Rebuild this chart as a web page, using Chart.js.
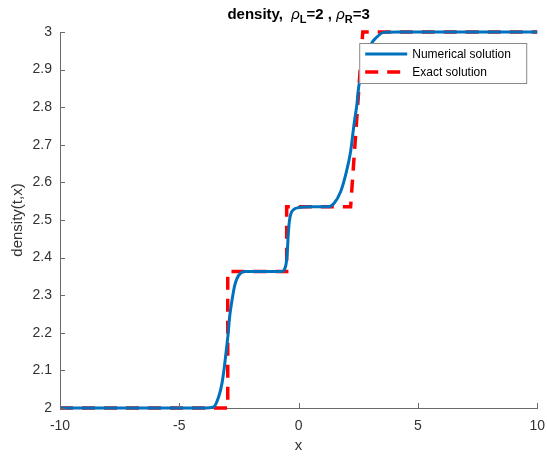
<!DOCTYPE html>
<html>
<head>
<meta charset="utf-8">
<script src="https://cdn.jsdelivr.net/npm/chart.js@4.4.1/dist/chart.umd.min.js"></script>
<style>
  html, body { margin: 0; padding: 0; background: #fff; }
  #wrap { width: 547px; height: 458px; }
</style>
</head>
<body>
<div id="wrap"><canvas id="densityChart" width="547" height="458"></canvas></div>
<script>
// exact Riemann solution: two shocks and a rarefaction
var exactX   = [-10, -2.97, -2.97, -0.5, -0.5, 2.18, 2.69, 10];
var exactRho = [2, 2, 2.363, 2.363, 2.535, 2.535, 3, 3];

// numerical solution sampled along x
var numX   = [-10, -5, -3.9, -3.56, -3.35, -3.21, -3.11, -3.03, -2.95, -2.89, -2.79, -2.69, -2.58, -2.44, -2.23,
              -1.5, -0.7, -0.59, -0.52, -0.47, -0.43, -0.38, -0.31, -0.2, 0.0, 0.5,
              1.2, 1.48, 1.76, 1.97, 2.18, 2.32, 2.44, 2.53, 2.58, 2.8, 3.07, 3.24, 3.57, 4.2, 10];
var numRho = [2, 2, 2, 2.003, 2.03, 2.066, 2.11, 2.154, 2.199, 2.243, 2.287, 2.323, 2.345, 2.358, 2.363,
              2.363, 2.363, 2.369, 2.385, 2.42, 2.465, 2.5, 2.519, 2.528, 2.533, 2.535,
              2.535, 2.544, 2.575, 2.62, 2.682, 2.753, 2.806, 2.859, 2.868, 2.925, 2.971, 2.984, 2.999, 3, 3];

var xTickValues = [-10, -5, 0, 5, 10];
var yTickValues = [2, 2.1, 2.2, 2.3, 2.4, 2.5, 2.6, 2.7, 2.8, 2.9, 3];

var rhoL = 2, rhoR = 3;
var BLUE = '#0072BD', RED = '#FF0000';
var FONT = '"Liberation Sans", Arial, sans-serif';

function toPoints(xs, ys) {
  return xs.map(function(x, i){ return {x: x, y: ys[i]}; });
}

// small inward tick marks, matlab style
var innerTicks = {
  id: 'innerTicks',
  afterDraw: function(chart){
    var ctx = chart.ctx, a = chart.chartArea;
    var sx = chart.scales.x, sy = chart.scales.y;
    ctx.save();
    ctx.strokeStyle = '#6a6a6a';
    ctx.lineWidth = 1;
    ctx.beginPath();
    xTickValues.forEach(function(v){
      var px = Math.round(sx.getPixelForValue(v)) + 0.5;
      ctx.moveTo(px, a.bottom); ctx.lineTo(px, a.bottom - 5);
    });
    yTickValues.forEach(function(v){
      var py = Math.round(sy.getPixelForValue(v)) + 0.5;
      ctx.moveTo(a.left, py); ctx.lineTo(a.left + 5, py);
    });
    ctx.stroke();
    ctx.restore();
  }
};

// title with subscripts
var subTitle = {
  id: 'subTitle',
  afterDraw: function(chart){
    var ctx = chart.ctx, a = chart.chartArea;
    var parts = [
      {t: 'density,  ', f: 'bold 15px ' + FONT, dy: 0},
      {t: '\u03C1', f: 'italic 15px ' + FONT, dy: 0},
      {t: 'L', f: 'bold 11px ' + FONT, dy: 4},
      {t: '=' + rhoL + ' , ', f: 'bold 15px ' + FONT, dy: 0},
      {t: '\u03C1', f: 'italic 15px ' + FONT, dy: 0},
      {t: 'R', f: 'bold 11px ' + FONT, dy: 4},
      {t: '=' + rhoR, f: 'bold 15px ' + FONT, dy: 0}
    ];
    ctx.save();
    var total = 0;
    parts.forEach(function(p){ ctx.font = p.f; p.w = ctx.measureText(p.t).width; total += p.w; });
    var x = (a.left + a.right) / 2 - total / 2;
    ctx.fillStyle = '#000';
    ctx.textBaseline = 'alphabetic';
    ctx.textAlign = 'left';
    parts.forEach(function(p){
      ctx.font = p.f;
      ctx.fillText(p.t, x, 19 + p.dy);
      x += p.w;
    });
    ctx.restore();
  }
};

// boxed legend in the upper right corner of the axes
var boxLegend = {
  id: 'boxLegend',
  afterDraw: function(chart){
    var ctx = chart.ctx, a = chart.chartArea;
    var w = 167, h = 40;
    var left = a.right - 11 - w, top = a.top + 11;
    ctx.save();
    ctx.fillStyle = '#fff';
    ctx.fillRect(left, top, w, h);
    ctx.strokeStyle = '#8a8a8a';
    ctx.lineWidth = 1;
    ctx.strokeRect(left + 0.5, top + 0.5, w, h);
    ctx.font = '12px ' + FONT;
    ctx.textBaseline = 'middle';
    ctx.fillStyle = '#000';
    chart.data.datasets.forEach(function(ds, i){
      var y = top + 11 + i * 18;
      ctx.beginPath();
      ctx.strokeStyle = ds.borderColor;
      ctx.lineWidth = ds.borderWidth;
      ctx.setLineDash(ds.borderDash || []);
      ctx.moveTo(left + 6, y);
      ctx.lineTo(left + 48, y);
      ctx.stroke();
      ctx.setLineDash([]);
      ctx.fillText(ds.label, left + 53, y + 1);
    });
    ctx.restore();
  }
};

new Chart(document.getElementById('densityChart'), {
  type: 'scatter',
  data: {
    datasets: [{
      label: 'Numerical solution',
      data: toPoints(numX, numRho),
      showLine: true,
      borderColor: BLUE,
      borderWidth: 3,
      pointRadius: 0,
      cubicInterpolationMode: 'monotone',
      clip: 4
    }, {
      label: 'Exact solution',
      data: toPoints(exactX, exactRho),
      showLine: true,
      borderColor: RED,
      borderWidth: 3.5,
      borderDash: [13, 9],
      pointRadius: 0,
      tension: 0,
      clip: 4
    }]
  },
  plugins: [innerTicks, boxLegend, subTitle],
  options: {
    responsive: false,
    animation: false,
    layout: { padding: { top: 32, right: 2, left: 0, bottom: 0 } },
    plugins: { legend: { display: false }, tooltip: { enabled: false } },
    scales: {
      x: {
        type: 'linear', min: -10, max: 10,
        afterFit: function(s){ s.height = 50; },
        afterBuildTicks: function(s){ s.ticks = xTickValues.map(function(v){ return {value: v}; }); },
        grid: { display: false },
        border: { display: true, color: '#6a6a6a', width: 1 },
        ticks: { color: '#333', font: { size: 14, family: FONT }, padding: 2, maxRotation: 0 },
        title: { display: true, text: 'x', color: '#333', font: { size: 15, family: FONT }, padding: { top: 0, bottom: 3 } }
      },
      y: {
        type: 'linear', min: 2, max: 3,
        afterFit: function(s){ s.width = 60; },
        afterBuildTicks: function(s){ s.ticks = yTickValues.map(function(v){ return {value: v}; }); },
        grid: { display: false },
        border: { display: true, color: '#6a6a6a', width: 1 },
        ticks: { color: '#333', font: { size: 14, family: FONT }, padding: 0,
                 callback: function(v){ return String(Math.round(v * 10) / 10); } },
        title: { display: true, text: 'density(t,x)', color: '#333', font: { size: 15, family: FONT }, padding: { top: 9, bottom: 0 } }
      }
    }
  }
});
</script>
</body>
</html>
